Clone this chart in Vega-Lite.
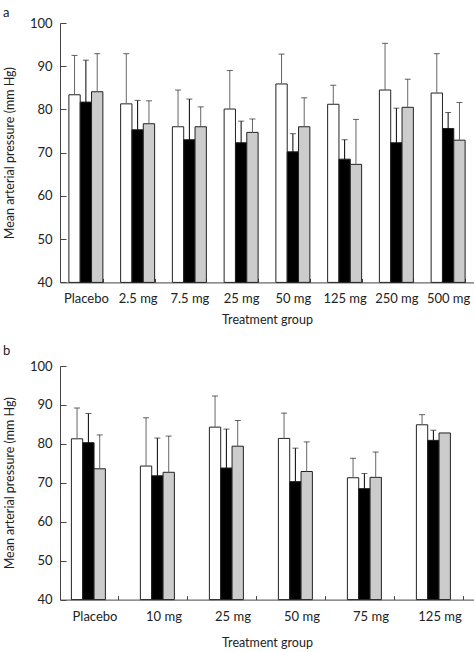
{
  "$schema": "https://vega.github.io/schema/vega-lite/v6.json",
  "autosize": {"type": "pad"},
  "padding": {"left": 3, "top": 7, "right": 0, "bottom": 0},
  "background": "white",
  "config": {
    "font": "Lato",
    "view": {"stroke": null},
    "axis": {
      "labelFont": "Lato", "titleFont": "Lato", "labelFontSize": 13, "titleFontSize": 12.5,
      "titleFontWeight": "normal", "labelColor": "#222", "titleColor": "#222",
      "domainColor": "#444", "tickColor": "#444", "grid": false, "labelOverlap": false
    },
    "title": {"font": "Lato", "fontSize": 13, "fontWeight": "normal", "color": "#222"}
  },
  "datasets": {
    "a": [
      {"group": "Placebo", "series": "w", "mean": 83.4, "upper": 92.5},
      {"group": "Placebo", "series": "k", "mean": 81.7, "upper": 91.4},
      {"group": "Placebo", "series": "g", "mean": 84.1, "upper": 92.9},
      {"group": "2.5 mg", "series": "w", "mean": 81.3, "upper": 92.9},
      {"group": "2.5 mg", "series": "k", "mean": 75.3, "upper": 82.1},
      {"group": "2.5 mg", "series": "g", "mean": 76.7, "upper": 82.0},
      {"group": "7.5 mg", "series": "w", "mean": 76.0, "upper": 84.5},
      {"group": "7.5 mg", "series": "k", "mean": 73.0, "upper": 82.4},
      {"group": "7.5 mg", "series": "g", "mean": 76.0, "upper": 80.6},
      {"group": "25 mg", "series": "w", "mean": 80.1, "upper": 89.0},
      {"group": "25 mg", "series": "k", "mean": 72.3, "upper": 77.3},
      {"group": "25 mg", "series": "g", "mean": 74.7, "upper": 77.8},
      {"group": "50 mg", "series": "w", "mean": 85.9, "upper": 92.8},
      {"group": "50 mg", "series": "k", "mean": 70.2, "upper": 74.4},
      {"group": "50 mg", "series": "g", "mean": 76.0, "upper": 82.7},
      {"group": "125 mg", "series": "w", "mean": 81.2, "upper": 85.6},
      {"group": "125 mg", "series": "k", "mean": 68.5, "upper": 73.0},
      {"group": "125 mg", "series": "g", "mean": 67.3, "upper": 77.7},
      {"group": "250 mg", "series": "w", "mean": 84.5, "upper": 95.3},
      {"group": "250 mg", "series": "k", "mean": 72.3, "upper": 80.3},
      {"group": "250 mg", "series": "g", "mean": 80.5, "upper": 87.0},
      {"group": "500 mg", "series": "w", "mean": 83.8, "upper": 92.9},
      {"group": "500 mg", "series": "k", "mean": 75.6, "upper": 79.3},
      {"group": "500 mg", "series": "g", "mean": 72.9, "upper": 81.6}
    ],
    "b": [
      {"group": "Placebo", "series": "w", "mean": 81.3, "upper": 89.2},
      {"group": "Placebo", "series": "k", "mean": 80.3, "upper": 87.8},
      {"group": "Placebo", "series": "g", "mean": 73.6, "upper": 82.3},
      {"group": "10 mg", "series": "w", "mean": 74.3, "upper": 86.7},
      {"group": "10 mg", "series": "k", "mean": 71.8, "upper": 81.5},
      {"group": "10 mg", "series": "g", "mean": 72.7, "upper": 82.0},
      {"group": "25 mg", "series": "w", "mean": 84.3, "upper": 92.3},
      {"group": "25 mg", "series": "k", "mean": 73.8, "upper": 83.8},
      {"group": "25 mg", "series": "g", "mean": 79.4, "upper": 86.0},
      {"group": "50 mg", "series": "w", "mean": 81.4, "upper": 87.9},
      {"group": "50 mg", "series": "k", "mean": 70.3, "upper": 78.9},
      {"group": "50 mg", "series": "g", "mean": 72.9, "upper": 80.5},
      {"group": "75 mg", "series": "w", "mean": 71.3, "upper": 76.3},
      {"group": "75 mg", "series": "k", "mean": 68.5, "upper": 72.4},
      {"group": "75 mg", "series": "g", "mean": 71.4, "upper": 77.9},
      {"group": "125 mg", "series": "w", "mean": 84.9, "upper": 87.5},
      {"group": "125 mg", "series": "k", "mean": 80.9, "upper": 83.5},
      {"group": "125 mg", "series": "g", "mean": 82.8, "upper": null}
    ]
  },
  "vconcat": [
    {
      "data": {"name": "a"},
      "width": 414,
      "height": 259.4,
      "title": {"text": "a", "anchor": "start", "frame": "group", "dx": -57, "offset": -13, "baseline": "alphabetic"},
      "encoding": {
        "x": {"field": "group", "type": "nominal", "sort": null,
              "scale": {"paddingInner": 0.343, "paddingOuter": 0.1715},
              "axis": {"title": "Treatment group", "labelAngle": 0, "tickBand": "extent", "tickSize": -4, "labelPadding": 14, "titlePadding": 8}},
        "xOffset": {"field": "series", "sort": ["w", "k", "g"], "scale": {"paddingInner": 0}}
      },
      "layer": [
        {
          "mark": {"type": "bar", "stroke": "#222", "strokeWidth": 1},
          "encoding": {
            "y": {"field": "mean", "type": "quantitative", "scale": {"domain": [40, 100], "zero": false, "nice": false},
                  "axis": {"title": "Mean arterial pressure (mm Hg)", "values": [40, 50, 60, 70, 80, 90, 100], "tickCount": 12, "labelOverlap": false, "tickSize": -6, "labelPadding": 14, "titlePadding": 13}},
            "y2": {"datum": 40},
            "fill": {"field": "series", "type": "nominal", "scale": {"domain": ["w", "k", "g"], "range": ["#ffffff", "#000000", "#cccccc"]}, "legend": null}
          }
        },
        {
          "transform": [{"filter": "isValid(datum.upper)"}],
          "mark": {"type": "rule", "strokeWidth": 1},
          "encoding": {
            "y": {"field": "mean", "type": "quantitative"},
            "y2": {"field": "upper"},
            "color": {"condition": {"test": "datum.series == 'k'", "value": "#000000"}, "value": "#666666"}
          }
        },
        {
          "transform": [{"filter": "isValid(datum.upper)"}],
          "mark": {"type": "tick", "size": 6, "thickness": 1},
          "encoding": {
            "y": {"field": "upper", "type": "quantitative"},
            "color": {"value": "#222222"}
          }
        }
      ]
    },
    {
      "data": {"name": "b"},
      "width": 414,
      "height": 233.6,
      "title": {"text": "b", "anchor": "start", "frame": "group", "dx": -57, "offset": -8, "baseline": "alphabetic"},
      "encoding": {
        "x": {"field": "group", "type": "nominal", "sort": null,
              "scale": {"paddingInner": 0.33, "paddingOuter": 0.165},
              "axis": {"title": "Treatment group", "labelAngle": 0, "tickBand": "extent", "tickSize": -4, "labelPadding": 15, "titlePadding": 13}},
        "xOffset": {"field": "series", "sort": ["w", "k", "g"], "scale": {"paddingInner": 0}}
      },
      "layer": [
        {
          "mark": {"type": "bar", "stroke": "#222", "strokeWidth": 1},
          "encoding": {
            "y": {"field": "mean", "type": "quantitative", "scale": {"domain": [40, 100], "zero": false, "nice": false},
                  "axis": {"title": "Mean arterial pressure (mm Hg)", "values": [40, 50, 60, 70, 80, 90, 100], "tickCount": 12, "labelOverlap": false, "tickSize": -6, "labelPadding": 14, "titlePadding": 13}},
            "y2": {"datum": 40},
            "fill": {"field": "series", "type": "nominal", "scale": {"domain": ["w", "k", "g"], "range": ["#ffffff", "#000000", "#cccccc"]}, "legend": null}
          }
        },
        {
          "transform": [{"filter": "isValid(datum.upper)"}],
          "mark": {"type": "rule", "strokeWidth": 1},
          "encoding": {
            "y": {"field": "mean", "type": "quantitative"},
            "y2": {"field": "upper"},
            "color": {"condition": {"test": "datum.series == 'k'", "value": "#000000"}, "value": "#666666"}
          }
        },
        {
          "transform": [{"filter": "isValid(datum.upper)"}],
          "mark": {"type": "tick", "size": 6, "thickness": 1},
          "encoding": {
            "y": {"field": "upper", "type": "quantitative"},
            "color": {"value": "#222222"}
          }
        }
      ]
    }
  ],
  "spacing": 83,
  "bounds": "flush",
  "resolve": {"scale": {"x": "independent"}}
}
